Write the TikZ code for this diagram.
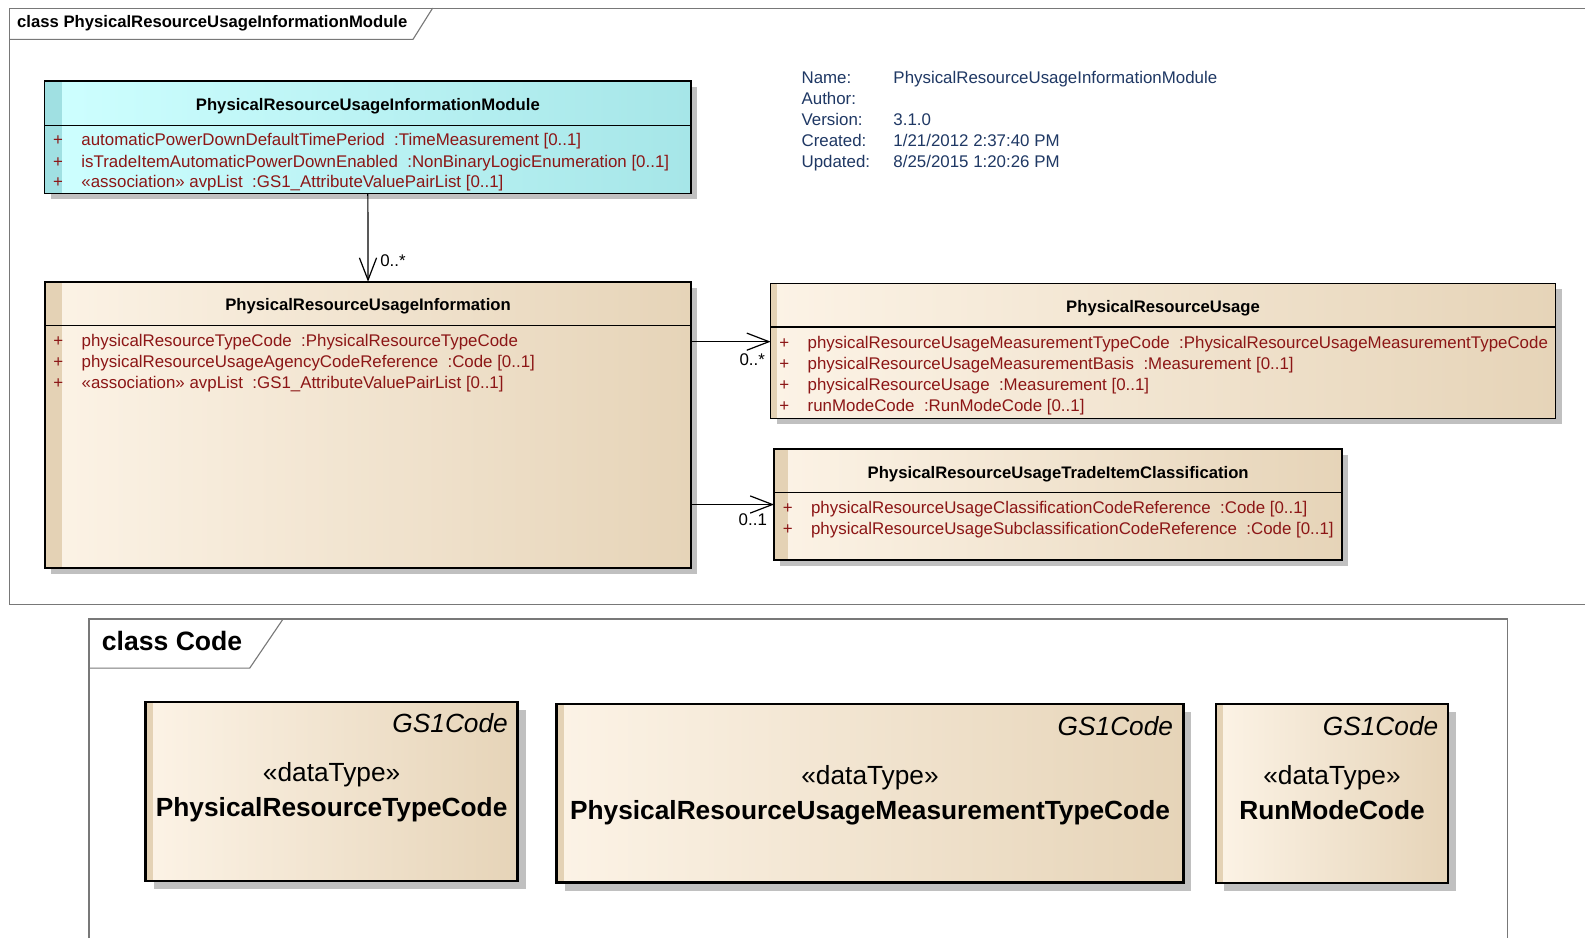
\documentclass[tikz,border=0pt]{standalone}
\usepackage{fontspec}
\setmainfont{Liberation Sans}
\usepackage{tikz}
\usetikzlibrary{positioning}
\usetikzlibrary{calc}
\usetikzlibrary{arrows.meta}
\usetikzlibrary{shadows}

\definecolor{attrred}{RGB}{140,22,22}
\definecolor{metablue}{RGB}{31,56,100}
\definecolor{modcyan}{RGB}{206,255,255}
\definecolor{modcyandark}{RGB}{166,230,232}
\definecolor{modstrip}{RGB}{160,224,226}
\definecolor{cream}{RGB}{252,243,230}
\definecolor{tan}{RGB}{230,212,184}
\definecolor{tanstrip}{RGB}{228,210,181}
\definecolor{framegray}{RGB}{120,120,120}
\definecolor{shadowgray}{RGB}{192,192,192}

\newcommand{\attrplus}{\makebox[28pt][l]{+}}
\newcommand{\smallfont}{\fontsize{16.7pt}{20pt}\selectfont}
\newcommand{\bigfont}{\fontsize{26pt}{30pt}\selectfont}

\tikzset{
  frameline/.style={draw=framegray, line width=1.1pt},
  frametitle/.style={anchor=base west, inner sep=0pt, font=\fontsize{16.5pt}{20pt}\selectfont\bfseries},
  frametitlebig/.style={anchor=base west, inner sep=0pt, font=\fontsize{26.3pt}{30pt}\selectfont\bfseries},
  clsbox/.style={anchor=north west, inner sep=0pt, outer sep=0pt,
    drop shadow={shadow xshift=6pt, shadow yshift=-6pt, fill=shadowgray, opacity=1}},
  codebox/.style={anchor=north west, inner sep=0pt, outer sep=0pt,
    drop shadow={shadow xshift=8pt, shadow yshift=-8pt, fill=shadowgray, opacity=1}},
  modfill/.style={left color=modcyan, right color=modcyandark},
  tanfill/.style={left color=cream, right color=tan},
  boxline/.style={draw=black, line width=1.6pt},
  codeline/.style={draw=black, line width=2.4pt},
  clstitle/.style={anchor=base, inner sep=0pt, font=\fontsize{16.5pt}{20pt}\selectfont\bfseries},
  attr/.style={anchor=base west, inner sep=0pt, text=attrred, font=\smallfont},
  mult/.style={anchor=base west, inner sep=0pt, font=\smallfont},
  metatext/.style={anchor=base west, inner sep=0pt, text=metablue, font=\smallfont},
  gscode/.style={anchor=base east, inner sep=0pt, font=\bigfont\itshape},
  dtype/.style={anchor=base, inner sep=0pt, font=\bigfont},
  dname/.style={anchor=base, inner sep=0pt, font=\bigfont\bfseries},
  assoc/.style={line width=1.2pt, -{Straight Barb[length=22pt,width=17pt]}}
}

\begin{document}
\begin{tikzpicture}[x=1pt, y=-1pt]
\useasboundingbox (0,0) rectangle (1568,928);
\fill[white] (0,0) rectangle (1568,928);

% upper frame
\draw[frameline] (1568,8) -- (9,8) -- (9,598) -- (1568,598);
\draw[frameline] (9,38.9) -- (408.6,38.9) -- (428,8);
\node[frametitle] (frameone) at (16.8,27) {class PhysicalResourceUsageInformationModule};

% module class
\node[clsbox, modfill, minimum width=639.4pt, minimum height=111.2pt] (module) at (44.2,80.1) {};
\fill[modstrip] (module.north west) rectangle ($(module.south west)+(17,0)$);
\draw[boxline] (module.north west) rectangle (module.south east);
\draw[boxline] ($(module.north west)+(0,44.2)$) -- ($(module.north east)+(0,44.2)$);
\node[clstitle] (moduletitle) at ($(module.north)+(0,29.4)$) {PhysicalResourceUsageInformationModule};
\node[attr] (modattr1) at ($(module.north west)+(8.2,64.3)$) {\attrplus automaticPowerDownDefaultTimePeriod~~:TimeMeasurement [0..1]};
\node[attr] (modattr2) at ($(module.north west)+(8.2,85.2)$) {\attrplus isTradeItemAutomaticPowerDownEnabled~~:NonBinaryLogicEnumeration [0..1]};
\node[attr] (modattr3) at ($(module.north west)+(8.2,105.8)$) {\attrplus «association» avpList~~:GS1\_AttributeValuePairList [0..1]};

% info class
\node[clsbox, tanfill, minimum width=639.4pt, minimum height=283.3pt] (info) at (44.4,278.7) {};
\fill[tanstrip] (info.north west) rectangle ($(info.south west)+(17,0)$);
\draw[boxline] (info.north west) rectangle (info.south east);
\draw[boxline] ($(info.north west)+(0,43.2)$) -- ($(info.north east)+(0,43.2)$);
\node[clstitle] (infotitle) at ($(info.north)+(0,28.6)$) {PhysicalResourceUsageInformation};
\node[attr] (infoattr1) at ($(info.north west)+(8.2,63.6)$) {\attrplus physicalResourceTypeCode~~:PhysicalResourceTypeCode};
\node[attr] (infoattr2) at ($(info.north west)+(8.2,85)$) {\attrplus physicalResourceUsageAgencyCodeReference~~:Code [0..1]};
\node[attr] (infoattr3) at ($(info.north west)+(8.2,106)$) {\attrplus «association» avpList~~:GS1\_AttributeValuePairList [0..1]};

% usage class
\node[clsbox, tanfill, minimum width=776.4pt, minimum height=133.6pt] (usage) at (762.4,280.3) {};
\fill[tanstrip] (usage.north west) rectangle ($(usage.south west)+(6,0)$);
\draw[boxline] (usage.north west) rectangle (usage.south east);
\draw[boxline] ($(usage.north west)+(0,42.9)$) -- ($(usage.north east)+(0,42.9)$);
\node[clstitle] (usagetitle) at ($(usage.north)+(0,29.3)$) {PhysicalResourceUsage};
\node[attr] (usageattr1) at ($(usage.north west)+(8.4,64.5)$) {\attrplus physicalResourceUsageMeasurementTypeCode~~:PhysicalResourceUsageMeasurementTypeCode};
\node[attr] (usageattr2) at ($(usage.north west)+(8.4,85.3)$) {\attrplus physicalResourceUsageMeasurementBasis~~:Measurement [0..1]};
\node[attr] (usageattr3) at ($(usage.north west)+(8.4,106.2)$) {\attrplus physicalResourceUsage~~:Measurement [0..1]};
\node[attr] (usageattr4) at ($(usage.north west)+(8.4,127)$) {\attrplus runModeCode~~:RunModeCode [0..1]};

% classification class
\node[clsbox, tanfill, minimum width=562pt, minimum height=109.8pt] (trade) at (765.8,444.2) {};
\fill[tanstrip] (trade.north west) rectangle ($(trade.south west)+(14,0)$);
\draw[boxline] (trade.north west) rectangle (trade.south east);
\draw[boxline] ($(trade.north west)+(0,42.9)$) -- ($(trade.north east)+(0,42.9)$);
\node[clstitle] (tradetitle) at ($(trade.north)+(0,28.8)$) {PhysicalResourceUsageTradeItemClassification};
\node[attr] (tradeattr1) at ($(trade.north west)+(8.4,63.8)$) {\attrplus physicalResourceUsageClassificationCodeReference~~:Code [0..1]};
\node[attr] (tradeattr2) at ($(trade.north west)+(8.4,84.8)$) {\attrplus physicalResourceUsageSubclassificationCodeReference~~:Code [0..1]};

% associations
\coordinate (usagein) at ($(usage.north west)+(0,57.7)$);
\draw[assoc] (module.south) -- (info.north);
\draw[assoc] (info.east |- usagein) -- (usagein);
\draw[assoc] (info.east |- trade.west) -- (trade.west);
\node[mult] (multinfo) at (376,263.8) {0..*};
\node[mult] (multusage) at (731.4,361.1) {0..*};
\node[mult] (multtrade) at (730.6,519.4) {0..1};

% package details
\node[metatext] (namelbl) at (792.8,82.4) {Name:};
\node[metatext] (authorlbl) at (792.8,103.2) {Author:};
\node[metatext] (versionlbl) at (792.8,124) {Version:};
\node[metatext] (createdlbl) at (792.8,144.8) {Created:};
\node[metatext] (updatedlbl) at (792.8,165.6) {Updated:};
\node[metatext] (nameval) at (883.7,82.4) {PhysicalResourceUsageInformationModule};
\node[metatext] (versionval) at (883.7,124) {3.1.0};
\node[metatext] (createdval) at (883.7,144.8) {1/21/2012 2:37:40 PM};
\node[metatext] (updatedval) at (883.7,165.6) {8/25/2015 1:20:26 PM};

% lower frame
\draw[frameline] (88,928) -- (88,612.4) -- (1491,612.4) -- (1491,928);
\draw[frameline] (88,661) -- (247,661) -- (280,612.4);
\node[frametitlebig] (frametwo) at (100.6,643.7) {class Code};

% code data types
\node[codebox, tanfill, minimum width=368pt, minimum height=177.4pt] (typecode) at (144.1,694.2) {};
\fill[tanstrip] (typecode.north west) rectangle ($(typecode.south west)+(7,0)$);
\draw[codeline] (typecode.north west) rectangle (typecode.south east);
\node[gscode] (typecodegs) at ($(typecode.north east)+(-9.5,30.8)$) {GS1Code};
\node[dtype] (typecodedt) at ($(typecode.north)+(0,79)$) {«dataType»};
\node[dname] (typecodename) at ($(typecode.north)+(0,113.8)$) {PhysicalResourceTypeCode};

\node[codebox, tanfill, minimum width=620pt, minimum height=176.7pt] (measurecode) at (550.7,696.5) {};
\fill[tanstrip] (measurecode.north west) rectangle ($(measurecode.south west)+(7,0)$);
\draw[codeline] (measurecode.north west) rectangle (measurecode.south east);
\node[gscode] (measurecodegs) at ($(measurecode.north east)+(-10,31)$) {GS1Code};
\node[dtype] (measurecodedt) at ($(measurecode.north)+(0,80)$) {«dataType»};
\node[dname] (measurecodename) at ($(measurecode.north)+(0,114)$) {PhysicalResourceUsageMeasurementTypeCode};

\node[codebox, tanfill, minimum width=229.8pt, minimum height=177pt] (runcode) at (1202.8,696.5) {};
\fill[tanstrip] (runcode.north west) rectangle ($(runcode.south west)+(7,0)$);
\draw[codeline] (runcode.north west) rectangle (runcode.south east);
\node[gscode] (runcodegs) at ($(runcode.north east)+(-9.6,31)$) {GS1Code};
\node[dtype] (runcodedt) at ($(runcode.north)+(0,80)$) {«dataType»};
\node[dname] (runcodename) at ($(runcode.north)+(0,114)$) {RunModeCode};
\end{tikzpicture}
\end{document}
